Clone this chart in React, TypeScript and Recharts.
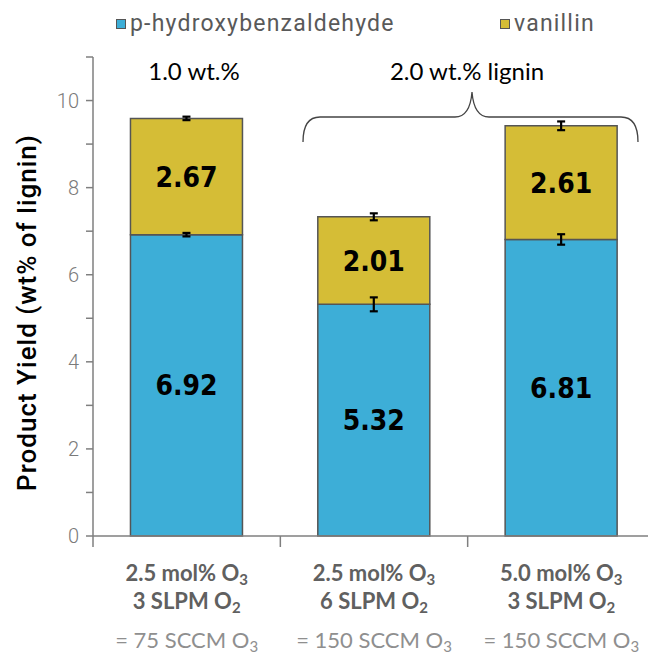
import { BarChart, Bar, XAxis, YAxis, ErrorBar, LabelList, Legend, Customized } from 'recharts';

const conditions = ['A', 'B', 'C'];
const ozoneLabels = ['2.5 mol% O', '2.5 mol% O', '5.0 mol% O'];
const oxygenLabels = ['3 SLPM O', '6 SLPM O', '3 SLPM O'];
const flowLabels = ['= 75 SCCM O', '= 150 SCCM O', '= 150 SCCM O'];
const hydroxy = [6.92, 5.32, 6.81];
const hydroxyErr = [0.04, 0.16, 0.12];
const vanillin = [2.67, 2.01, 2.61];
const vanillinErr = [0.04, 0.08, 0.1];
const yTicks = [0, 1, 2, 3, 4, 5, 6, 7, 8, 9, 10, 11];

const BLUE = '#3daed7';
const GOLD = '#d5bd36';
const AXIS = '#7f7f7f';

const W = 670;
const H = 654;
const margin = { top: 57, right: 15, left: 33, bottom: 0 };
const Y_AXIS_W = 60;
const X_AXIS_H = 118;
const band = (W - margin.left - margin.right - Y_AXIS_W) / conditions.length;

const data = conditions.map((c, i) => ({
  name: c,
  hydroxy: hydroxy[i],
  hydroxyErr: hydroxyErr[i],
  vanillin: vanillin[i],
  vanillinErr: vanillinErr[i],
}));

const legendItems = [
  { label: 'p-hydroxybenzaldehyde', color: BLUE, left: 116 },
  { label: 'vanillin', color: GOLD, left: 500 },
];

function LegendContent() {
  return (
    <div style={{ position: 'relative', height: 30 }}>
      {legendItems.map((it) => (
        <div
          key={it.label}
          style={{ position: 'absolute', left: it.left, top: 0, display: 'flex', alignItems: 'center' }}
        >
          <span
            style={{
              width: 8,
              height: 8,
              background: it.color,
              border: '1px solid #555',
              marginRight: 4,
              display: 'inline-block',
            }}
          />
          <span style={{ fontFamily: 'Roboto', fontSize: 23, letterSpacing: 1.2, color: '#595959' }}>{it.label}</span>
        </div>
      ))}
    </div>
  );
}

function YTick(props: any) {
  const { x, y, payload } = props;
  if (payload.value % 2 !== 0) return null;
  return (
    <text x={x - 5} y={y} dy={7} textAnchor="end" fontFamily="Roboto" fontWeight={300} fontSize={20} fill="#7a7a7a">
      {payload.value}
    </text>
  );
}

function YLabel(props: any) {
  const { viewBox } = props;
  const cx = 27;
  const cy = viewBox.y + viewBox.height / 2 + 16;
  return (
    <text
      x={cx}
      y={cy}
      transform={`rotate(-90, ${cx}, ${cy})`}
      textAnchor="middle"
      dominantBaseline="central"
      fontFamily="Roboto"
      fontWeight={500}
      fontSize={26}
      letterSpacing={1}
      fill="#000"
    >
      Product Yield (wt% of lignin)
    </text>
  );
}

function XTick(props: any) {
  const { x, y, index } = props;
  const half = band / 2;
  const bold = { fontFamily: 'Lato', fontWeight: 700, fontSize: 22, fill: '#606060' };
  return (
    <g>
      <line x1={x - half} x2={x - half} y1={y} y2={y + 11} stroke={AXIS} strokeWidth={1.5} />
      {index === conditions.length - 1 && (
        <line x1={x + half} x2={x + half} y1={y} y2={y + 11} stroke={AXIS} strokeWidth={1.5} />
      )}
      <text x={x} y={y + 45} textAnchor="middle" {...bold}>
        {ozoneLabels[index]}
        <tspan fontSize={15} dy={4}>3</tspan>
      </text>
      <text x={x} y={y + 73} textAnchor="middle" {...bold}>
        {oxygenLabels[index]}
        <tspan fontSize={15} dy={4}>2</tspan>
      </text>
      <text x={x} y={y + 112} textAnchor="middle" fontFamily="Lato" fontSize={22} fill="#8f8f8f">
        {flowLabels[index]}
        <tspan fontSize={15} dy={4}>3</tspan>
      </text>
    </g>
  );
}

function BarValue(props: any) {
  const { x, y, width, height, value } = props;
  return (
    <text
      x={x + width / 2}
      y={y + height / 2}
      dy={10}
      textAnchor="middle"
      fontFamily="DejaVu Sans Condensed"
      fontWeight={700}
      fontSize={28}
      fill="#000"
    >
      {Number(value).toFixed(2)}
    </text>
  );
}

function Annotations() {
  return (
    <g>
      <text x={194} y={80} textAnchor="middle" fontFamily="Lato" fontSize={24} fill="#000">
        1.0 wt.%
      </text>
      <text x={467} y={80} textAnchor="middle" fontFamily="Lato" fontSize={24} fill="#000">
        2.0 wt.% lignin
      </text>
      <path
        d="M303,142 Q303,117 320,117 L455,117 Q470,117 472,92 Q474,117 489,117 L621,117 Q638,117 638,142"
        fill="none"
        stroke="#444"
        strokeWidth={1.3}
      />
    </g>
  );
}

export default function App() {
  return (
    <div style={{ position: 'absolute', left: 0, top: 0, width: 648, height: 654, overflow: 'hidden', background: '#fff' }}>
      <BarChart width={W} height={H} data={data} margin={margin} barCategoryGap="20%">
        <Legend
          layout="horizontal"
          verticalAlign="middle"
          align="center"
          content={<LegendContent />}
          wrapperStyle={{ top: 10, left: 0, width: 648, height: 30 }}
        />
        <XAxis
          dataKey="name"
          height={X_AXIS_H}
          tickLine={false}
          tickSize={0}
          tickMargin={0}
          axisLine={{ stroke: AXIS, strokeWidth: 1.5 }}
          tick={<XTick />}
          interval={0}
        />
        <YAxis
          width={Y_AXIS_W}
          domain={[0, 11]}
          ticks={yTicks}
          interval={0}
          tickSize={7}
          tick={<YTick />}
          axisLine={{ stroke: AXIS, strokeWidth: 1.5 }}
          tickLine={{ stroke: AXIS, strokeWidth: 1.5 }}
          label={<YLabel />}
        />
        <Bar dataKey="hydroxy" stackId="s" fill={BLUE} stroke="#555" strokeWidth={1.5} isAnimationActive={false}>
          <ErrorBar dataKey="hydroxyErr" width={4} stroke="#000" strokeWidth={2.2} />
          <LabelList dataKey="hydroxy" content={<BarValue />} />
        </Bar>
        <Bar dataKey="vanillin" stackId="s" fill={GOLD} stroke="#555" strokeWidth={1.5} isAnimationActive={false}>
          <ErrorBar dataKey="vanillinErr" width={4} stroke="#000" strokeWidth={2.2} />
          <LabelList dataKey="vanillin" content={<BarValue />} />
        </Bar>
        <Customized component={<Annotations />} />
      </BarChart>
    </div>
  );
}
